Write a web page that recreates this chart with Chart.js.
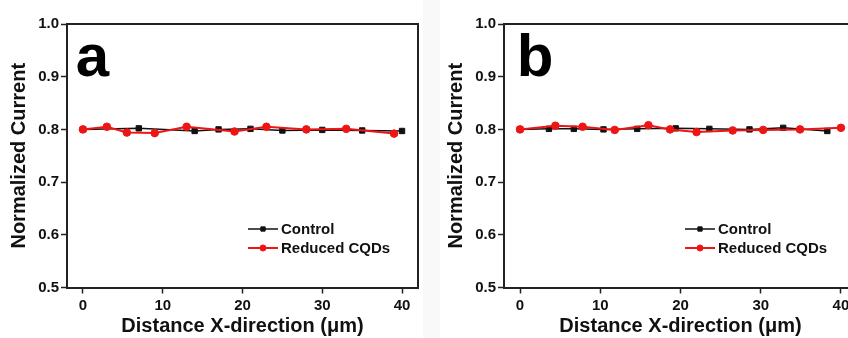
<!DOCTYPE html>
<html><head><meta charset="utf-8">
<script src="https://cdn.jsdelivr.net/npm/chart.js@4/dist/chart.umd.min.js"></script>
<style>
html,body{margin:0;padding:0;background:#fff;width:848px;height:338px;overflow:hidden;position:relative}
canvas{position:absolute;top:0}
#strip{position:absolute;left:423px;top:0;width:17px;height:338px;background:#f9f9f9}
</style></head><body>
<div id="strip"></div>
<canvas id="ca" width="424" height="338" style="left:0"></canvas>
<canvas id="cb" width="426" height="338" style="left:437px"></canvas>
<script>
// ---- data ----
const xTicks = [0, 10, 20, 30, 40];
const yTicks = [0.5, 0.6, 0.7, 0.8, 0.9, 1.0];
const seriesNames = ['Control', 'Reduced CQDs'];

const ctrlAX = [0, 7, 14, 17, 21, 25, 30, 35, 40];
const ctrlAY = [0.800, 0.802, 0.797, 0.800, 0.801, 0.798, 0.799, 0.798, 0.797];
const redAX  = [0, 3, 5.5, 9, 13, 19, 23, 28, 33, 39];
const redAY  = [0.800, 0.805, 0.794, 0.793, 0.805, 0.796, 0.805, 0.800, 0.801, 0.792];

const ctrlBX = [0, 3.6, 6.7, 10.4, 14.6, 19.4, 23.6, 28.6, 32.8, 38.3];
const ctrlBY = [0.800, 0.801, 0.801, 0.800, 0.801, 0.802, 0.801, 0.800, 0.803, 0.797];
const redBX  = [0, 4.4, 7.8, 11.8, 16, 18.7, 22, 26.5, 30.3, 34.9, 40];
const redBY  = [0.800, 0.807, 0.805, 0.799, 0.808, 0.800, 0.795, 0.798, 0.799, 0.800, 0.803];

const FONT = '"Liberation Sans", Arial, Helvetica, sans-serif';
const BLACK = '#111111';
const RED = '#ee1515';

const pts = (xs, ys) => xs.map((x, i) => ({x, y: ys[i]}));

const framePlugin = {
  id: 'frame',
  afterDraw(chart, args, opts) {
    const {ctx, chartArea: a} = chart;
    ctx.save();
    ctx.strokeStyle = '#222';
    ctx.lineWidth = 2;
    ctx.beginPath();
    ctx.moveTo(a.left, a.top);
    ctx.lineTo(a.right, a.top);
    ctx.lineTo(a.right, a.bottom);
    ctx.stroke();
    // panel letter
    ctx.fillStyle = '#000';
    ctx.font = 'bold 60px ' + FONT;
    ctx.textBaseline = 'alphabetic';
    ctx.textAlign = 'left';
    ctx.fillText(opts.letter, a.left + opts.letterDx, a.top + 52);
    // legend
    ctx.font = 'bold 15px ' + FONT;
    ctx.textBaseline = 'middle';
    chart.data.datasets.forEach((ds, i) => {
      const y = a.top + 205 + i * 19;
      const x0 = a.left + 181, x1 = a.left + 211;
      ctx.strokeStyle = ds.borderColor;
      ctx.lineWidth = ds.borderWidth;
      ctx.beginPath(); ctx.moveTo(x0, y); ctx.lineTo(x1, y); ctx.stroke();
      ctx.fillStyle = ds.pointBackgroundColor;
      ctx.strokeStyle = ds.pointBorderColor;
      ctx.lineWidth = 1;
      Chart.helpers.drawPoint(ctx, {pointStyle: ds.pointStyle, radius: ds.pointRadius * 0.8, borderWidth: 1, rotation: 0}, (x0 + x1) / 2, y);
      ctx.fillStyle = '#111';
      ctx.fillText(ds.label, x1 + 3, y + 1);
    });
    ctx.restore();
  }
};

function makeChart(id, cx, cy, rx, ry, letter, letterDx) {
  return new Chart(document.getElementById(id), {
    type: 'line',
    data: {
      datasets: [
        {label: seriesNames[0], data: pts(cx, cy), borderColor: BLACK, borderWidth: 1.5,
         pointStyle: 'rect', pointRadius: 3.8, pointBackgroundColor: BLACK, pointBorderColor: BLACK,
         pointBorderWidth: 1, order: 2, tension: 0},
        {label: seriesNames[1], data: pts(rx, ry), borderColor: RED, borderWidth: 2,
         pointStyle: 'circle', pointRadius: 3.8, pointBackgroundColor: RED, pointBorderColor: RED,
         pointBorderWidth: 1, order: 1, tension: 0}
      ]
    },
    options: {
      responsive: false, animation: false, devicePixelRatio: 1,
      layout: {padding: {left: 0, right: 6, top: 24, bottom: 0}},
      plugins: {legend: {display: false}, tooltip: {enabled: false}, frame: {letter, letterDx}},
      scales: {
        x: {
          type: 'linear', min: -2, max: 42,
          afterBuildTicks: s => { s.ticks = xTicks.map(v => ({value: v})); },
          afterFit: s => { s.height = 50.5; },
          grid: {drawOnChartArea: false, drawTicks: true, tickLength: 6, tickWidth: 1.5, tickColor: '#222'},
          border: {display: true, width: 2, color: '#222'},
          ticks: {color: '#111', font: {family: FONT, size: 15, weight: 'bold'}, padding: 3, maxRotation: 0,
                  callback: v => String(v)},
          title: {display: true, text: 'Distance X-direction (μm)', color: '#111',
                  font: {family: FONT, size: 20, weight: 'bold'}, padding: {top: 0, bottom: 0}}
        },
        y: {
          type: 'linear', min: 0.5, max: 1.0,
          afterBuildTicks: s => { s.ticks = yTicks.map(v => ({value: v})); },
          afterFit: s => { s.width = 67; },
          grid: {drawOnChartArea: false, drawTicks: true, tickLength: 6, tickWidth: 1.5, tickColor: '#222'},
          border: {display: true, width: 2, color: '#222'},
          ticks: {color: '#111', font: {family: FONT, size: 15, weight: 'bold'}, padding: 2,
                  callback: v => Number(v).toFixed(1)},
          title: {display: true, text: 'Normalized Current', color: '#111',
                  font: {family: FONT, size: 20, weight: 'bold'}, padding: {top: 7, bottom: 0}}
        }
      }
    },
    plugins: [framePlugin]
  });
}

makeChart('ca', ctrlAX, ctrlAY, redAX, redAY, 'a', 8.7);
makeChart('cb', ctrlBX, ctrlBY, redBX, redBY, 'b', 12.7);
</script>
</body></html>
